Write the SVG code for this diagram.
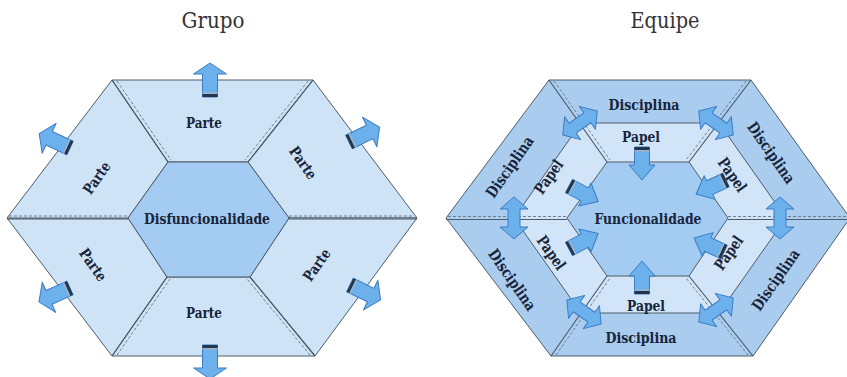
<svg xmlns="http://www.w3.org/2000/svg" width="847" height="377" viewBox="0 0 847 377">
<defs>
<style>
.sec{fill:#cfe3f7;stroke:#4e5c6a;stroke-width:1;stroke-linejoin:round}
.core{fill:#a4cbf1;stroke:#4e5c6a;stroke-width:1}
.ring{fill:#aacdef;stroke:#4e5c6a;stroke-width:1}
.mid{fill:#d2e5f8;stroke:#4e5c6a;stroke-width:1}
.div{stroke:#4e5c6a;stroke-width:1.2;fill:none}
.dash{stroke:#6f7f8e;stroke-width:1;stroke-dasharray:3,2;fill:none}
.lbl{font-family:'DejaVu Serif','Liberation Serif',serif;font-weight:bold;fill:#17243a;text-anchor:middle}
.ttl{font-family:'DejaVu Serif','Liberation Serif',serif;font-size:23px;fill:#333;text-anchor:middle}
.arr{fill:#6cb0ec;stroke:#3b7cc2;stroke-width:1;stroke-linejoin:round}
.cap{fill:#22364d}
.cap2{fill:#9fb4c8}
</style>
<g id="outArrow">
<polygon class="arr" points="0,-7.5 23,-7.5 23,-16.5 34,0 23,16.5 23,7.5 0,7.5"/>
<rect class="cap" x="0" y="-7.5" width="3" height="15"/>
<rect class="cap2" x="3" y="-7.5" width="1.5" height="15"/>
</g>
<g id="inArrow">
<polygon class="arr" points="0,-7.5 18,-7.5 18,-13 33,0 18,13 18,7.5 0,7.5"/>
<rect class="cap" x="0" y="-7.5" width="3" height="15"/>
<rect class="cap2" x="3" y="-7.5" width="1.5" height="15"/>
</g>
<polygon id="dblArrow" class="arr" points="-21,0 -9,-14 -9,-6 9,-6 9,-14 21,0 9,14 9,6 -9,6 -9,14"/>
</defs>
<rect width="847" height="377" fill="#ffffff"/>

<text class="ttl" x="213" y="28" textLength="63" lengthAdjust="spacingAndGlyphs">Grupo</text>
<text class="ttl" x="665" y="28" textLength="69" lengthAdjust="spacingAndGlyphs">Equipe</text>

<g id="grupo">
<g id="grupo-parte-top"><polygon class="sec" points="112,80 313,80 248,162 168,162"/></g>
<g id="grupo-parte-ur"><polygon class="sec" points="313,80 417,218 289,218 248,162"/></g>
<g id="grupo-parte-lr"><polygon class="sec" points="417,218 315,356 250,277 289,218"/></g>
<g id="grupo-parte-bottom"><polygon class="sec" points="315,356 112,356 167,277 250,277"/></g>
<g id="grupo-parte-ll"><polygon class="sec" points="112,356 7,218 128,218 167,277"/></g>
<g id="grupo-parte-ul"><polygon class="sec" points="7,218 112,80 168,162 128,218"/></g>
<g id="grupo-center"><polygon class="core" points="168,162 248,162 289,218 250,277 167,277 128,218"/></g>
<g id="grupo-dividers">
<line class="div" x1="112" y1="80" x2="168" y2="162"/><line class="dash" x1="117" y1="81" x2="171" y2="160"/>
<line class="div" x1="313" y1="80" x2="248" y2="162"/><line class="dash" x1="308" y1="81" x2="245" y2="160"/>
<line class="div" x1="112" y1="356" x2="167" y2="277"/><line class="dash" x1="117" y1="355" x2="170" y2="279"/>
<line class="div" x1="315" y1="356" x2="250" y2="277"/><line class="dash" x1="310" y1="355" x2="247" y2="279"/>
<line class="div" x1="7" y1="219" x2="128" y2="219"/><line class="dash" x1="9" y1="216" x2="128" y2="216"/>
<line class="div" x1="289" y1="219" x2="417" y2="219"/><line class="dash" x1="289" y1="216" x2="414" y2="216"/>
</g>
<text class="lbl" font-size="15" x="204" y="128" textLength="36" lengthAdjust="spacingAndGlyphs">Parte</text>
<text class="lbl" font-size="15" x="204" y="318" textLength="36" lengthAdjust="spacingAndGlyphs">Parte</text>
<text class="lbl" font-size="15" transform="translate(97,178) rotate(-55)" y="5" textLength="36" lengthAdjust="spacingAndGlyphs">Parte</text>
<text class="lbl" font-size="15" transform="translate(303,163) rotate(55)" y="5" textLength="36" lengthAdjust="spacingAndGlyphs">Parte</text>
<text class="lbl" font-size="15" transform="translate(93,265) rotate(55)" y="5" textLength="36" lengthAdjust="spacingAndGlyphs">Parte</text>
<text class="lbl" font-size="15" transform="translate(317,265) rotate(-55)" y="5" textLength="36" lengthAdjust="spacingAndGlyphs">Parte</text>
<text class="lbl" font-size="15" x="207" y="224" textLength="126" lengthAdjust="spacingAndGlyphs">Disfuncionalidade</text>
</g>

<g id="equipe">
<g id="equipe-disciplina"><polygon class="ring" points="549,80 751,80 850,218 753,356 551,356 446,218"/></g>
<g id="equipe-papel"><polygon class="mid" points="581,123 719,123 786,218 719,313 581,313 514,218"/></g>
<g id="equipe-funcionalidade"><polygon class="core" points="607,162 689,162 728,218 689,276 607,276 567,218"/></g>
<g id="equipe-dividers">
<line class="div" x1="549" y1="80" x2="607" y2="162"/><line class="dash" x1="554" y1="81" x2="610" y2="160"/>
<line class="div" x1="751" y1="80" x2="689" y2="162"/><line class="dash" x1="746" y1="81" x2="686" y2="160"/>
<line class="div" x1="551" y1="356" x2="607" y2="276"/><line class="dash" x1="556" y1="355" x2="610" y2="278"/>
<line class="div" x1="753" y1="356" x2="689" y2="276"/><line class="dash" x1="748" y1="355" x2="686" y2="278"/>
<line class="div" x1="446" y1="219.5" x2="567" y2="219.5"/><line class="dash" x1="448" y1="216.5" x2="567" y2="216.5"/>
<line class="div" x1="728" y1="219.5" x2="850" y2="219.5"/><line class="dash" x1="728" y1="216.5" x2="850" y2="216.5"/>
</g>
<text class="lbl" font-size="15.5" x="644" y="110" textLength="71" lengthAdjust="spacingAndGlyphs">Disciplina</text>
<text class="lbl" font-size="15.5" x="641" y="142" textLength="38" lengthAdjust="spacingAndGlyphs">Papel</text>
<text class="lbl" font-size="15.5" x="646" y="311" textLength="38" lengthAdjust="spacingAndGlyphs">Papel</text>
<text class="lbl" font-size="15.5" x="641" y="343" textLength="71" lengthAdjust="spacingAndGlyphs">Disciplina</text>
<text class="lbl" font-size="15.5" x="648" y="224" textLength="107" lengthAdjust="spacingAndGlyphs">Funcionalidade</text>
<text class="lbl" font-size="15.5" transform="translate(510,167) rotate(-55)" y="5" textLength="71" lengthAdjust="spacingAndGlyphs">Disciplina</text>
<text class="lbl" font-size="15.5" transform="translate(549,177) rotate(-55)" y="5" textLength="38" lengthAdjust="spacingAndGlyphs">Papel</text>
<text class="lbl" font-size="15.5" transform="translate(551,253) rotate(55)" y="5" textLength="38" lengthAdjust="spacingAndGlyphs">Papel</text>
<text class="lbl" font-size="15.5" transform="translate(512,280) rotate(55)" y="5" textLength="71" lengthAdjust="spacingAndGlyphs">Disciplina</text>
<text class="lbl" font-size="15.5" transform="translate(771,153) rotate(55)" y="5" textLength="71" lengthAdjust="spacingAndGlyphs">Disciplina</text>
<text class="lbl" font-size="15.5" transform="translate(732,175) rotate(55)" y="5" textLength="38" lengthAdjust="spacingAndGlyphs">Papel</text>
<text class="lbl" font-size="15.5" transform="translate(729,253) rotate(-55)" y="5" textLength="38" lengthAdjust="spacingAndGlyphs">Papel</text>
<text class="lbl" font-size="15.5" transform="translate(776,280) rotate(-55)" y="5" textLength="71" lengthAdjust="spacingAndGlyphs">Disciplina</text>
</g>

<g id="connectors">
<use href="#outArrow" transform="translate(210,97) rotate(-90)"/>
<use href="#outArrow" transform="translate(70,148) rotate(-155)"/>
<use href="#outArrow" transform="translate(349,142) rotate(-26)"/>
<use href="#outArrow" transform="translate(70,288) rotate(156)"/>
<use href="#outArrow" transform="translate(350,285) rotate(26)"/>
<use href="#outArrow" transform="translate(210,345) rotate(90)"/>

<use href="#inArrow" transform="translate(642,147) rotate(90)"/>
<use href="#inArrow" transform="translate(642,294) rotate(-90)"/>
<use href="#inArrow" transform="translate(569,186) rotate(28)"/>
<use href="#inArrow" transform="translate(569,249) rotate(-28)"/>
<use href="#inArrow" transform="translate(726,180) rotate(155)"/>
<use href="#inArrow" transform="translate(724,252) rotate(-155)"/>

<use href="#dblArrow" transform="translate(580,123) rotate(-35)"/>
<use href="#dblArrow" transform="translate(716,123) rotate(35)"/>
<use href="#dblArrow" transform="translate(514,218) rotate(90)"/>
<use href="#dblArrow" transform="translate(780,218) rotate(90)"/>
<use href="#dblArrow" transform="translate(584,312) rotate(35)"/>
<use href="#dblArrow" transform="translate(716,310) rotate(-35)"/>
</g>
</svg>
